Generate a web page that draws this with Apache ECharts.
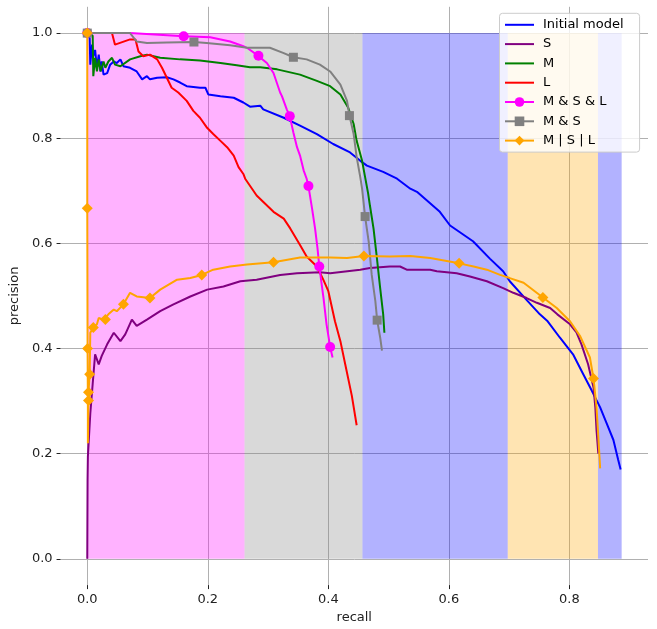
<!DOCTYPE html>
<html><head><meta charset="utf-8">
<script src="https://cdn.jsdelivr.net/npm/echarts@6/dist/echarts.min.js"></script>
<style>html,body{margin:0;padding:0;background:#fff}#c{width:657px;height:629px}</style>
</head><body><div id="c"></div>
<script>
const xTicks = [0.0, 0.2, 0.4, 0.6, 0.8];
const yTicks = [0.0, 0.2, 0.4, 0.6, 0.8, 1.0];
const seriesNames = ['Initial model', 'S', 'M', 'L', 'M & S & L', 'M & S', 'M | S | L'];

const initialModel = [[0.000,1.000],[0.004,0.990],[0.005,0.940],[0.008,0.978],[0.010,0.956],[0.013,0.968],[0.016,0.934],[0.019,0.959],[0.022,0.927],[0.024,0.946],[0.027,0.921],[0.033,0.924],[0.038,0.940],[0.044,0.946],[0.049,0.943],[0.055,0.950],[0.060,0.937],[0.071,0.934],[0.082,0.927],[0.091,0.912],[0.099,0.918],[0.104,0.912],[0.116,0.915],[0.132,0.916],[0.143,0.912],[0.154,0.906],[0.165,0.899],[0.187,0.896],[0.196,0.896],[0.201,0.883],[0.221,0.880],[0.243,0.877],[0.259,0.868],[0.270,0.860],[0.287,0.862],[0.292,0.855],[0.326,0.839],[0.353,0.824],[0.381,0.808],[0.408,0.789],[0.436,0.773],[0.453,0.757],[0.464,0.748],[0.491,0.736],[0.514,0.723],[0.536,0.704],[0.547,0.698],[0.585,0.660],[0.602,0.634],[0.640,0.604],[0.668,0.571],[0.690,0.547],[0.701,0.528],[0.730,0.491],[0.751,0.465],[0.763,0.453],[0.784,0.421],[0.806,0.389],[0.823,0.351],[0.837,0.320],[0.851,0.288],[0.862,0.257],[0.873,0.226],[0.881,0.188],[0.885,0.170]];

const sModel = [[0.000,0.000],[0.0005,0.150],[0.001,0.194],[0.005,0.276],[0.009,0.333],[0.013,0.389],[0.016,0.392],[0.019,0.370],[0.024,0.386],[0.033,0.408],[0.044,0.430],[0.055,0.414],[0.063,0.427],[0.074,0.455],[0.082,0.443],[0.099,0.455],[0.121,0.471],[0.143,0.484],[0.171,0.499],[0.199,0.512],[0.226,0.518],[0.254,0.528],[0.281,0.531],[0.320,0.540],[0.348,0.543],[0.386,0.545],[0.403,0.543],[0.453,0.550],[0.469,0.553],[0.502,0.556],[0.519,0.556],[0.530,0.550],[0.569,0.550],[0.580,0.547],[0.613,0.543],[0.635,0.537],[0.663,0.528],[0.690,0.515],[0.707,0.506],[0.729,0.496],[0.746,0.487],[0.768,0.477],[0.780,0.465],[0.801,0.446],[0.812,0.430],[0.820,0.408],[0.831,0.370],[0.840,0.326],[0.843,0.288],[0.845,0.244],[0.848,0.200]];

const mModel = [[0.000,1.000],[0.009,0.995],[0.010,0.918],[0.013,0.953],[0.016,0.927],[0.019,0.950],[0.022,0.927],[0.027,0.946],[0.030,0.934],[0.035,0.946],[0.041,0.953],[0.046,0.940],[0.055,0.937],[0.071,0.950],[0.088,0.956],[0.099,0.959],[0.121,0.953],[0.154,0.950],[0.187,0.948],[0.221,0.943],[0.248,0.939],[0.270,0.935],[0.287,0.935],[0.315,0.931],[0.353,0.921],[0.381,0.909],[0.403,0.899],[0.420,0.883],[0.433,0.858],[0.442,0.827],[0.447,0.795],[0.456,0.757],[0.461,0.726],[0.466,0.695],[0.469,0.672],[0.475,0.628],[0.480,0.578],[0.486,0.515],[0.491,0.465],[0.493,0.430]];

const lModel = [[0.000,1.000],[0.041,1.000],[0.046,0.978],[0.071,0.988],[0.080,0.988],[0.085,0.965],[0.093,0.956],[0.104,0.959],[0.116,0.950],[0.124,0.934],[0.132,0.915],[0.140,0.896],[0.151,0.887],[0.165,0.871],[0.176,0.852],[0.187,0.839],[0.198,0.821],[0.209,0.808],[0.221,0.795],[0.232,0.783],[0.243,0.767],[0.251,0.745],[0.259,0.732],[0.262,0.723],[0.281,0.691],[0.309,0.660],[0.326,0.647],[0.337,0.628],[0.353,0.597],[0.364,0.575],[0.381,0.556],[0.392,0.530],[0.400,0.509],[0.411,0.452],[0.420,0.414],[0.428,0.370],[0.439,0.310],[0.447,0.254]];

const mslAll = [[0.000,1.000],[0.071,1.000],[0.160,0.994],[0.204,0.992],[0.237,0.984],[0.259,0.975],[0.265,0.972],[0.281,0.959],[0.284,0.957],[0.298,0.943],[0.309,0.924],[0.320,0.887],[0.323,0.880],[0.331,0.855],[0.336,0.842],[0.342,0.811],[0.348,0.783],[0.353,0.767],[0.359,0.739],[0.364,0.723],[0.367,0.709],[0.373,0.666],[0.378,0.628],[0.382,0.591],[0.385,0.556],[0.392,0.496],[0.397,0.446],[0.403,0.403],[0.407,0.383]];
const mslAllMarks = [0, 2, 8, 14, 20, 24, 27];

const msBoth = [[0.000,1.000],[0.071,1.000],[0.082,0.984],[0.099,0.981],[0.132,0.982],[0.177,0.983],[0.198,0.981],[0.237,0.977],[0.265,0.972],[0.303,0.972],[0.326,0.962],[0.342,0.954],[0.364,0.950],[0.386,0.940],[0.403,0.927],[0.420,0.902],[0.431,0.871],[0.435,0.843],[0.442,0.808],[0.447,0.764],[0.453,0.726],[0.456,0.704],[0.461,0.651],[0.467,0.603],[0.472,0.540],[0.478,0.490],[0.481,0.454],[0.486,0.421],[0.489,0.396]];
const msBothMarks = [0, 5, 11, 17, 22, 26];

const mslAny = [[0.000,1.000],[0.000,0.667],[0.0005,0.400],[0.001,0.300],[0.001,0.220],[0.002,0.301],[0.002,0.317],[0.004,0.351],[0.005,0.430],[0.008,0.427],[0.010,0.440],[0.016,0.446],[0.019,0.458],[0.027,0.455],[0.030,0.455],[0.035,0.465],[0.044,0.474],[0.049,0.471],[0.060,0.484],[0.071,0.506],[0.082,0.499],[0.104,0.496],[0.121,0.512],[0.149,0.531],[0.171,0.534],[0.190,0.540],[0.209,0.550],[0.237,0.556],[0.265,0.560],[0.309,0.564],[0.353,0.573],[0.403,0.573],[0.431,0.572],[0.459,0.576],[0.502,0.575],[0.536,0.576],[0.569,0.572],[0.617,0.562],[0.641,0.556],[0.663,0.550],[0.685,0.540],[0.701,0.534],[0.724,0.525],[0.756,0.497],[0.779,0.477],[0.801,0.452],[0.818,0.423],[0.834,0.383],[0.840,0.343],[0.845,0.288],[0.848,0.232],[0.851,0.172]];
const mslAnyMarks = [0, 1, 2, 5, 6, 7, 10, 14, 18, 21, 25, 29, 33, 37, 43, 48];

const spanEdges = [0, 0.261, 0.4566, 0.6977, 0.8474, 0.8867];
const spanColors = ['#ff00ff', '#808080', '#0000ff', '#ffa500', '#0000ff'];

const FONT = 'DejaVu Sans';
const TXT = '#222';
const LINE_ICON = 'path://M0,0 L29,0 L29,2 L0,2 Z';

function mk(name, pts, color, symbol, size, marks) {
  const set = new Set(marks || []);
  return {
    type: 'line', name: name, z: 3, color: color,
    lineStyle: { width: 2, color: color },
    itemStyle: { color: color },
    symbol: symbol || 'none', symbolSize: size || 0,
    showSymbol: !!symbol, showAllSymbol: true,
    animation: false, silent: true,
    emphasis: { disabled: true },
    data: pts.map(function (p, i) {
      if (!symbol) return p;
      return set.has(i) ? { value: p } : { value: p, symbol: 'none' };
    })
  };
}

const series = [
  mk(seriesNames[0], initialModel, '#0000ff'),
  mk(seriesNames[1], sModel, '#800080'),
  mk(seriesNames[2], mModel, '#008000'),
  mk(seriesNames[3], lModel, '#ff0000'),
  mk(seriesNames[4], mslAll, '#ff00ff', 'circle', 10, mslAllMarks),
  mk(seriesNames[5], msBoth, '#808080', 'rect', 9, msBothMarks),
  mk(seriesNames[6], mslAny, '#ffa500', 'diamond', 11, mslAnyMarks)
];

const areas = [];
for (let i = 0; i < spanColors.length; i++) {
  areas.push([
    { xAxis: spanEdges[i], yAxis: 0, itemStyle: { color: spanColors[i], opacity: 0.3 } },
    { xAxis: spanEdges[i + 1], yAxis: 1 }
  ]);
}
series[0].markArea = { silent: true, data: areas, itemStyle: { borderWidth: 0 } };

const legendData = seriesNames.map(function (n, i) {
  return i < 4 ? { name: n, icon: LINE_ICON } : { name: n };
});

const chart = echarts.init(document.getElementById('c'));
chart.setOption({
  animation: false,
  backgroundColor: '#ffffff',
  grid: { left: 60.3, right: 9, top: 6.8, bottom: 39.8 },
  xAxis: {
    type: 'value', min: -0.0443, max: 0.9304,
    name: 'recall', nameLocation: 'middle', nameGap: 25,
    nameTextStyle: { fontSize: 13, color: TXT, fontFamily: FONT },
    axisLine: { show: false, onZero: false },
    axisTick: { show: true, length: 4, lineStyle: { color: TXT, width: 1 }, customValues: xTicks },
    axisLabel: { customValues: xTicks, formatter: function (v) { return v.toFixed(1); }, margin: 8, fontSize: 13, color: TXT, fontFamily: FONT },
    splitLine: { show: true, lineStyle: { color: '#b0b0b0', width: 1 } }
  },
  yAxis: {
    type: 'value', min: -0.05, max: 1.05,
    name: 'precision', nameLocation: 'middle', nameGap: 36,
    nameTextStyle: { fontSize: 13, color: TXT, fontFamily: FONT },
    axisLine: { show: false, onZero: false },
    axisTick: { show: true, length: 4, lineStyle: { color: TXT, width: 1 }, customValues: yTicks },
    axisLabel: { customValues: yTicks, formatter: function (v) { return v.toFixed(1); }, margin: 8, fontSize: 13, color: TXT, fontFamily: FONT },
    splitLine: { show: true, lineStyle: { color: '#b0b0b0', width: 1 } }
  },
  legend: {
    data: legendData, orient: 'vertical', left: 499.5, top: 13.3,
    itemWidth: 29, itemHeight: 12, itemGap: 6.3,
    padding: [5, 16, 5, 4.5],
    backgroundColor: 'rgba(255,255,255,0.8)', borderColor: '#cccccc', borderWidth: 1, borderRadius: 3,
    textStyle: { fontSize: 13, color: '#000', fontFamily: FONT, padding: [0, 0, 0, 4] }
  },
  series: series
});
</script></body></html>
